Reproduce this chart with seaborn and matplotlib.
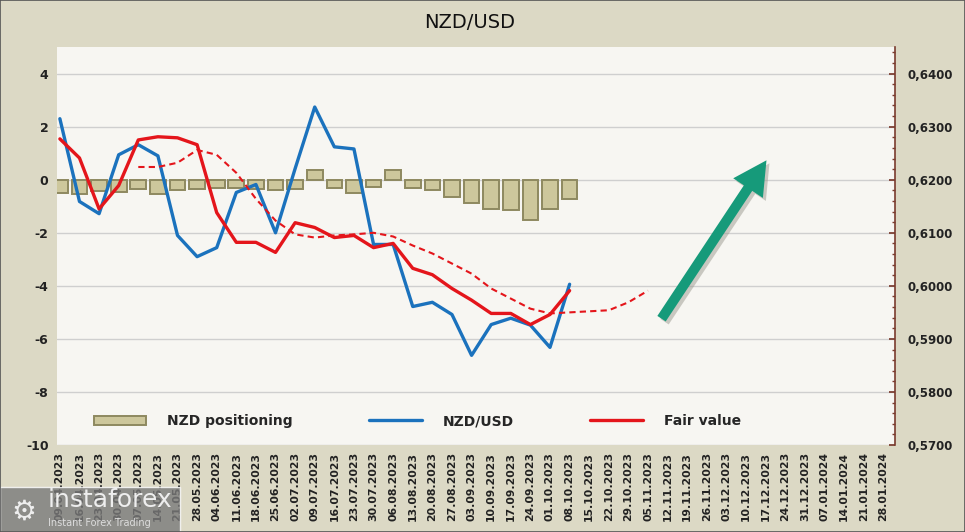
import matplotlib
matplotlib.use("Agg")
import matplotlib.pyplot as plt
import seaborn as sns
import numpy as np
import pandas as pd
from matplotlib.lines import Line2D
from matplotlib.patches import Patch, Rectangle
from matplotlib.ticker import MultipleLocator, FuncFormatter

# weekly labels on the date axis
weeks = ['09.04.2023', '16.04.2023', '23.04.2023', '30.04.2023', '07.05.2023', '14.05.2023',
         '21.05.2023', '28.05.2023', '04.06.2023', '11.06.2023', '18.06.2023', '25.06.2023',
         '02.07.2023', '09.07.2023', '16.07.2023', '23.07.2023', '30.07.2023', '06.08.2023',
         '13.08.2023', '20.08.2023', '27.08.2023', '03.09.2023', '10.09.2023', '17.09.2023',
         '24.09.2023', '01.10.2023', '08.10.2023', '15.10.2023', '22.10.2023', '29.10.2023',
         '05.11.2023', '12.11.2023', '19.11.2023', '26.11.2023', '03.12.2023', '10.12.2023',
         '17.12.2023', '24.12.2023', '31.12.2023', '07.01.2024', '14.01.2024', '21.01.2024',
         '28.01.2024']

# NZD positioning (left axis), one bar per week 09.04 -> 08.10
positioning = [-0.49, -0.53, -0.41, -0.45, -0.34, -0.53, -0.38, -0.34, -0.30, -0.30,
               -0.34, -0.38, -0.34, 0.38, -0.30, -0.49, -0.26, 0.38, -0.30, -0.38,
               -0.64, -0.86, -1.09, -1.13, -1.50, -1.09, -0.71]

# NZD/USD and fair value (right axis), 09.04 -> 08.10
nzdusd = [0.6315, 0.6159, 0.6136, 0.6247, 0.6266, 0.6245, 0.6095, 0.6055, 0.6072, 0.6176,
          0.6191, 0.6100, 0.6221, 0.6337, 0.6262, 0.6258, 0.6078, 0.6078, 0.5961, 0.5969,
          0.5946, 0.5869, 0.5927, 0.5939, 0.5926, 0.5884, 0.6003]
fair_value = [0.6277, 0.6241, 0.6145, 0.6189, 0.6275, 0.6281, 0.6279, 0.6266, 0.6138, 0.6082,
              0.6082, 0.6063, 0.6119, 0.6110, 0.6091, 0.6095, 0.6072, 0.6080, 0.6033, 0.6021,
              0.5995, 0.5973, 0.5948, 0.5948, 0.5927, 0.5946, 0.5991]

# shifted fair value (dashed), 07.05 -> 05.11
fair_fwd_start = 4
fair_value_fwd = [0.6224, 0.6224, 0.6232, 0.6256, 0.6247, 0.6213, 0.6164, 0.6123, 0.6097,
                  0.6091, 0.6095, 0.6097, 0.6100, 0.6093, 0.6076, 0.6061, 0.6042, 0.6023,
                  0.5995, 0.5976, 0.5957, 0.5948, 0.5950, 0.5952, 0.5954, 0.5969, 0.5991]

sns.set_theme(style="white")
plt.rcParams['font.family'] = ['DejaVu Sans']

bg = '#dcd9c5'
fig = plt.figure(figsize=(9.65, 5.32), dpi=100, facecolor=bg)
ax = fig.add_axes([0.059, 0.1635, 0.8685, 0.748])
ax.set_facecolor('#f7f6f2')

df_pos = pd.DataFrame({'week': np.arange(len(positioning)), 'pos': positioning})
sns.barplot(data=df_pos, x='week', y='pos', native_scale=True, width=0.8,
            color='#cdc79c', edgecolor='#8e8960', linewidth=1.4, saturation=1, ax=ax)

ax2 = ax.twinx()
n = len(nzdusd)
sns.lineplot(x=np.arange(n), y=nzdusd, ax=ax2, color='#1b72bd', lw=2.4)
sns.lineplot(x=np.arange(n), y=fair_value, ax=ax2, color='#e4151b', lw=2.4)
sns.lineplot(x=np.arange(fair_fwd_start, fair_fwd_start + len(fair_value_fwd)), y=fair_value_fwd,
             ax=ax2, color='#e4151b', lw=1.5, linestyle=(0, (3, 2)))

ax.set_xlim(-0.15, 42.6)
ax.set_ylim(-10, 5)
ax2.set_ylim(0.57, 0.645)

# x axis
ax.set_xticks(range(len(weeks)))
ax.set_xticklabels(weeks, rotation=90, fontsize=7.8, fontweight='bold', color='#222222')
ax.tick_params(axis='x', length=0, pad=5)
ax.set_xlabel('')
ax.set_ylabel('')

# left axis
ax.set_yticks(range(-10, 5, 2))
ax.set_yticklabels([str(v) for v in range(-10, 5, 2)], fontsize=9, fontweight='bold', color='#222222')
ax.tick_params(axis='y', length=0, pad=6)
ax.yaxis.grid(True, color='#cfcfcf', lw=1)
ax.set_axisbelow(True)
for s in ax.spines.values():
    s.set_visible(False)

# right axis
spine_col = '#7a3b2e'
ax2.set_yticks(np.arange(0.57, 0.6401, 0.01))
ax2.yaxis.set_major_formatter(FuncFormatter(lambda v, p: f"{v:.4f}".replace('.', ',')))
ax2.yaxis.set_minor_locator(MultipleLocator(0.002))
ax2.tick_params(axis='y', which='major', direction='in', length=4, color=spine_col, pad=9,
                labelsize=8.5, labelcolor='#222222')
ax2.tick_params(axis='y', which='minor', direction='in', length=2, color=spine_col)
for lab in ax2.get_yticklabels():
    lab.set_fontweight('bold')
ax2.set_ylabel('')
for k, s in ax2.spines.items():
    s.set_visible(k == 'right')
ax2.spines['right'].set_color(spine_col)
ax2.spines['right'].set_linewidth(1.2)
ax2.grid(False)

# legend
handles = [Patch(facecolor='#cdc79c', edgecolor='#8e8960', lw=1.4),
           Line2D([], [], color='#1b72bd', lw=2.4),
           Line2D([], [], color='#e4151b', lw=2.4)]
ax.legend(handles, ['NZD positioning', 'NZD/USD', 'Fair value'], ncol=3, loc='center',
          bbox_to_anchor=(0.43, 0.06), frameon=False,
          prop={'weight': 'bold', 'size': 10}, handlelength=3.8, handleheight=0.6,
          handletextpad=1.5, columnspacing=5.5)

# title
fig.text(0.487, 0.958, 'NZD/USD', ha='center', va='center', fontsize=14, color='#111111')

# green arrow
arrow_style = 'simple,head_length=1.5,head_width=1.6,tail_width=0.45'
ax.annotate('', xy=(771, 371), xycoords='figure pixels', xytext=(663, 208),
            textcoords='figure pixels', annotation_clip=False,
            arrowprops=dict(arrowstyle=arrow_style, mutation_scale=16, color='#9a9a90',
                            alpha=0.5, lw=0))
ax.annotate('', xy=(768, 374), xycoords='figure pixels', xytext=(660, 211),
            textcoords='figure pixels', annotation_clip=False,
            arrowprops=dict(arrowstyle=arrow_style, mutation_scale=16, color='#169a7a', lw=0))

# watermark
fig.patches.append(Rectangle((0, 0), 180 / 965, 45 / 532, transform=fig.transFigure,
                             fc='#7a7a7a', alpha=0.8, zorder=10))
fig.text(48 / 965, 25 / 532, 'instaforex', fontsize=18, color='#eeeeee', zorder=11,
         va='baseline')
fig.text(48 / 965, 6 / 532, 'Instant Forex Trading', fontsize=7, color='#dddddd', zorder=11,
         va='baseline')
fig.text(24 / 965, 20 / 532, '⚙', fontsize=20, color='#eeeeee', zorder=11, ha='center',
         va='center')

# outer frame
fig.patches.append(Rectangle((0, 0), 1, 1, transform=fig.transFigure, fill=False,
                             ec='#555555', lw=1.2, zorder=12))

fig.savefig('out.png', dpi=100, facecolor=bg)
